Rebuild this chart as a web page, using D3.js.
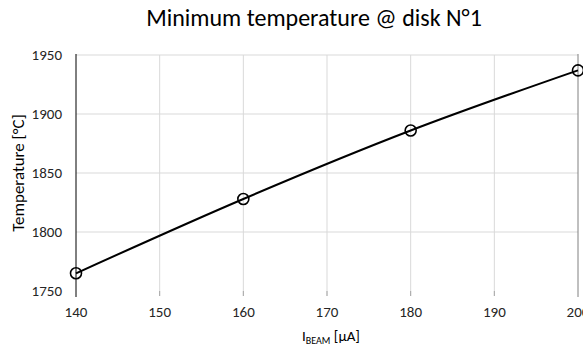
<!DOCTYPE html>
<html>
<head>
<meta charset="utf-8">
<script src="https://cdn.jsdelivr.net/npm/d3@7"></script>
<style>
  html, body { margin: 0; padding: 0; background: #fff; }
  svg { display: block; font-family: Carlito, Calibri, "Liberation Sans", sans-serif; }
</style>
</head>
<body>
<svg id="chart" width="583" height="350"></svg>
<script>
// Beam current (µA) and minimum temperature on disk N°1 (°C)
const beamCurrent = [140, 160, 180, 200];
const minTemperature = [1765, 1828, 1886, 1937];
const xTicks = [140, 150, 160, 170, 180, 190, 200];
const yTicks = [1750, 1800, 1850, 1900, 1950];

const svg = d3.select("#chart");
const W = 583, H = 350;
const m = { left: 76, right: 5, top: 55, bottom: 59 };

const x = d3.scaleLinear().domain([140, 200]).range([m.left, W - m.right]);
const y = d3.scaleLinear().domain([1750, 1950]).range([H - m.bottom, m.top]);

// Gridlines
svg.append("g").selectAll("line").data(yTicks.slice(1)).join("line")
  .attr("x1", m.left).attr("x2", W - m.right)
  .attr("y1", d => y(d)).attr("y2", d => y(d))
  .attr("stroke", "#d9d9d9").attr("stroke-width", 1);
svg.append("g").selectAll("line").data(xTicks.slice(1, -1)).join("line")
  .attr("x1", d => x(d)).attr("x2", d => x(d))
  .attr("y1", y(1950)).attr("y2", y(1750) + 5)
  .attr("stroke", "#d9d9d9").attr("stroke-width", 1);
// Small tick stubs below the plot
svg.append("g").selectAll("line").data(xTicks.slice(1, -1)).join("line")
  .attr("x1", d => x(d)).attr("x2", d => x(d))
  .attr("y1", y(1750)).attr("y2", y(1750) + 5)
  .attr("stroke", "#a6a6a6").attr("stroke-width", 1);

// Left (value) axis line and right edge line
svg.append("line")
  .attr("x1", x(140)).attr("x2", x(140))
  .attr("y1", y(1950) - 1).attr("y2", y(1750) + 6)
  .attr("stroke", "#000").attr("stroke-width", 1);
svg.append("line")
  .attr("x1", x(200)).attr("x2", x(200))
  .attr("y1", y(1950) - 1).attr("y2", y(1750) + 6)
  .attr("stroke", "#808080").attr("stroke-width", 1);

// Y tick labels
svg.append("g").selectAll("text").data(yTicks).join("text")
  .attr("x", m.left - 14).attr("y", d => y(d) + 5)
  .attr("text-anchor", "end")
  .attr("font-size", 15).attr("fill", "#262626")
  .text(d => d);

// X tick labels
svg.append("g").selectAll("text").data(xTicks).join("text")
  .attr("x", d => x(d)).attr("y", y(1750) + 26)
  .attr("text-anchor", "middle")
  .attr("font-size", 15).attr("fill", "#262626")
  .text(d => d);

// Data line
const pts = beamCurrent.map((c, i) => [c, minTemperature[i]]);
svg.append("path")
  .datum(pts)
  .attr("fill", "none").attr("stroke", "#000").attr("stroke-width", 2)
  .attr("d", d3.line().x(d => x(d[0])).y(d => y(d[1])).curve(d3.curveMonotoneX));

// Markers
svg.append("g").selectAll("circle").data(pts).join("circle")
  .attr("cx", d => x(d[0])).attr("cy", d => y(d[1]))
  .attr("r", 5.5)
  .attr("fill", "none").attr("stroke", "#000").attr("stroke-width", 1.6);

// Title
svg.append("text")
  .attr("x", 314).attr("y", 26)
  .attr("text-anchor", "middle")
  .attr("font-size", 24).attr("fill", "#000")
  .text("Minimum temperature @ disk N°1");

// Axis titles
const xt = svg.append("text")
  .attr("x", 331).attr("y", 341)
  .attr("text-anchor", "middle")
  .attr("font-size", 15).attr("fill", "#000");
xt.append("tspan").text("I");
xt.append("tspan").attr("font-size", 10).attr("dy", 3).text("BEAM");
xt.append("tspan").attr("dy", -3).text(" [µA]");

svg.append("text")
  .attr("transform", `translate(24, ${(y(1750) + y(1950)) / 2}) rotate(-90)`)
  .attr("text-anchor", "middle")
  .attr("font-size", 17).attr("fill", "#000")
  .text("Temperature [°C]");
</script>
</body>
</html>
